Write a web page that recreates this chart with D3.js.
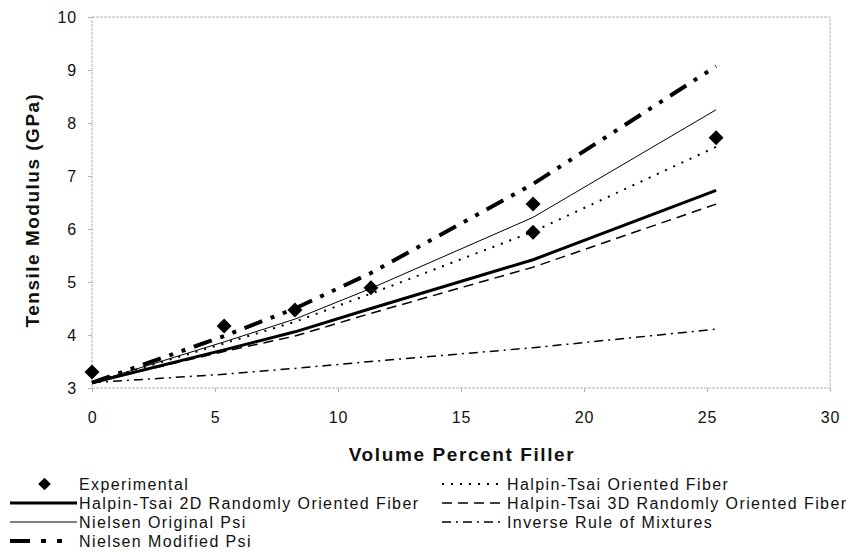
<!DOCTYPE html>
<html>
<head>
<meta charset="utf-8">
<script src="https://cdn.jsdelivr.net/npm/d3@7"></script>
<style>
  html, body { margin: 0; padding: 0; background: #fff; }
  svg { display: block; font-family: "Liberation Sans", Arial, sans-serif; }
</style>
</head>
<body>
<svg id="chart" width="854" height="552"></svg>
<script>
// Volume percent of filler at which the models are evaluated
const volumeFraction = [0, 5.37, 8.25, 11.34, 17.93, 25.37];

// Measured tensile modulus (GPa)
const expX = [0, 5.37, 8.25, 11.34, 17.93, 17.93, 25.37];
const expY = [3.30, 4.17, 4.47, 4.89, 6.47, 5.94, 7.72];

// Model predictions (GPa) at volumeFraction
const htOriented   = [3.10, 3.84, 4.25, 4.78, 5.95, 7.55];
const ht2dRandom   = [3.10, 3.72, 4.06, 4.50, 5.42, 6.73];
const ht3dRandom   = [3.10, 3.69, 3.98, 4.41, 5.28, 6.47];
const nielsenOrig  = [3.10, 3.87, 4.30, 4.88, 6.22, 8.25];
const nielsenMod   = [3.10, 3.98, 4.50, 5.17, 6.85, 9.07];
const inverseRoM   = [3.10, 3.26, 3.37, 3.50, 3.76, 4.11];

// Axis ticks
const xTicks = [0, 5, 10, 15, 20, 25, 30];
const yTicks = [3, 4, 5, 6, 7, 8, 9, 10];

const svg = d3.select("#chart");
const x = d3.scaleLinear().domain([0, 30]).range([92, 830]);
const y = d3.scaleLinear().domain([3, 10]).range([388, 17]);

// Plot frame
svg.append("rect")
  .attr("x", x(0)).attr("y", y(10))
  .attr("width", x(30) - x(0)).attr("height", y(3) - y(10))
  .attr("fill", "none").attr("stroke", "#b4b4b4").attr("stroke-width", 1)
  .attr("stroke-dasharray", "3,1");

// Axes
const yAxis = svg.append("g")
  .attr("transform", `translate(${x(0)},0)`)
  .call(d3.axisLeft(y).tickValues(yTicks).tickFormat(d3.format("d")).tickSize(4).tickPadding(11));
const xAxis = svg.append("g")
  .attr("transform", `translate(0,${y(3)})`)
  .call(d3.axisBottom(x).tickValues(xTicks).tickFormat(d3.format("d")).tickSize(4).tickPadding(19.5));
[xAxis, yAxis].forEach(g => {
  g.select(".domain").remove();
  g.selectAll(".tick line").attr("stroke", "#b4b4b4");
  g.selectAll(".tick text")
    .attr("fill", "#111")
    .style("font-size", "16px")
    .style("font-family", "'Liberation Sans', Arial, sans-serif")
    .style("letter-spacing", "0.8px");
});

// Axis titles
svg.append("text")
  .attr("transform", "translate(39,210) rotate(-90)")
  .attr("text-anchor", "middle")
  .style("font-size", "19px").style("font-weight", "bold").style("letter-spacing", "1.5px")
  .attr("fill", "#111")
  .text("Tensile Modulus (GPa)");
svg.append("text")
  .attr("x", 462).attr("y", 461)
  .attr("text-anchor", "middle")
  .style("font-size", "19px").style("font-weight", "bold").style("letter-spacing", "1.6px")
  .attr("fill", "#111")
  .text("Volume Percent Filler");

// Series definitions
const series = [
  { name: "Halpin-Tsai Oriented Fiber", values: htOriented, width: 2, dash: "2,7", legendDash: "2,7" },
  { name: "Halpin-Tsai 2D Randomly Oriented Fiber", values: ht2dRandom, width: 3, dash: null, legendDash: null },
  { name: "Halpin-Tsai 3D Randomly Oriented Fiber", values: ht3dRandom, width: 1.5, dash: "10,6", legendDash: "10,6" },
  { name: "Nielsen Original Psi", values: nielsenOrig, width: 1, dash: null, legendDash: null },
  { name: "Inverse Rule of Mixtures", values: inverseRoM, width: 1.5, dash: "9,5,2,5", legendDash: "9,5,2,5" },
  { name: "Nielsen Modified Psi", values: nielsenMod, width: 4, dash: "19,9,4,9,4,9", legendDash: "20,11,5,11,5,40" }
];

const line = d3.line()
  .x((d, i) => x(volumeFraction[i]))
  .y(d => y(d));

svg.append("g").selectAll("path")
  .data(series)
  .join("path")
  .attr("d", d => line(d.values))
  .attr("fill", "none")
  .attr("stroke", "#000")
  .attr("stroke-width", d => d.width)
  .attr("stroke-dasharray", d => d.dash)
  .attr("stroke-linejoin", "round");

// Experimental points as diamonds
const diamond = d3.symbol().type(d3.symbolSquare).size(112);
svg.append("g").selectAll("path")
  .data(expX.map((v, i) => [v, expY[i]]))
  .join("path")
  .attr("d", diamond)
  .attr("transform", d => `translate(${x(d[0])},${y(d[1])}) rotate(45)`)
  .attr("fill", "#000");

// Legend
const legend = svg.append("g").style("font-size", "16px").style("letter-spacing", "1.4px");
const rowY = [490, 509, 528, 547];
const legendItems = [
  { col: 0, row: 0, marker: true, name: "Experimental" },
  { col: 0, row: 1, s: series[1] },
  { col: 0, row: 2, s: series[3] },
  { col: 0, row: 3, s: series[5] },
  { col: 1, row: 0, s: series[0] },
  { col: 1, row: 1, s: series[2] },
  { col: 1, row: 2, s: series[4] }
];
const colX = [[10, 77], [442, 505]];
legendItems.forEach(it => {
  const [x0, x1] = colX[it.col];
  const by = rowY[it.row];
  const my = by - 6;
  if (it.marker) {
    legend.append("path")
      .attr("d", d3.symbol().type(d3.symbolSquare).size(80)())
      .attr("transform", `translate(${(x0 + x1) / 2 + 1},${my}) rotate(45)`)
      .attr("fill", "#000");
  } else {
    legend.append("line")
      .attr("x1", x0).attr("x2", x1).attr("y1", my).attr("y2", my)
      .attr("stroke", "#000")
      .attr("stroke-width", it.s.width)
      .attr("stroke-dasharray", it.s.legendDash);
  }
  legend.append("text")
    .attr("x", x1 + 2).attr("y", by)
    .attr("fill", "#111")
    .text(it.marker ? it.name : it.s.name);
});
</script>
</body>
</html>
